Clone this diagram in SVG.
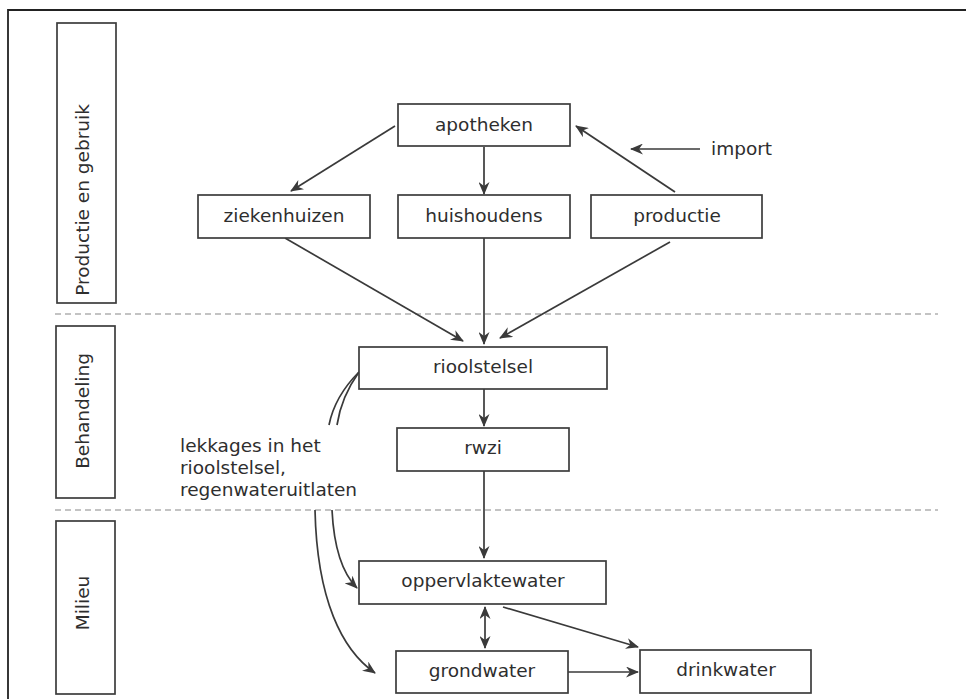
<svg xmlns="http://www.w3.org/2000/svg" width="966" height="699" viewBox="0 0 966 699">
<defs>
<marker id="ah" viewBox="0 0 13 11" refX="12" refY="5.5" markerWidth="13" markerHeight="11" markerUnits="userSpaceOnUse" orient="auto-start-reverse">
<path d="M0,0 L13,5.5 L0,11 L4,5.5 Z" fill="#3a3a3a"/>
</marker>
</defs>
<style>
.box{fill:#fff;stroke:#3c3c3c;stroke-width:1.7}
.t{font-family:"DejaVu Sans",Verdana,sans-serif;font-size:18.5px;fill:#2e2e2e}
.c{text-anchor:middle}
.ln{fill:none;stroke:#3a3a3a;stroke-width:1.7}
.ar{marker-end:url(#ah)}
.dash{stroke:#b0b0b0;stroke-width:1.3;stroke-dasharray:6 4}
</style>
<rect width="966" height="699" fill="#fff"/>
<path d="M8,699 L8,10 L966,10" fill="none" stroke="#222" stroke-width="1.8"/>

<g id="lanes">
<line class="dash" x1="55" y1="314" x2="938" y2="314"/>
<line class="dash" x1="55" y1="510" x2="938" y2="510"/>
<g id="lane-productie">
<rect class="box" x="57" y="23" width="59" height="280"/>
<text class="t c" transform="translate(89,200) rotate(-90)">Productie en gebruik</text>
</g>
<g id="lane-behandeling">
<rect class="box" x="56" y="326" width="59" height="172"/>
<text class="t c" transform="translate(89,411) rotate(-90)">Behandeling</text>
</g>
<g id="lane-milieu">
<rect class="box" x="56" y="521" width="59" height="173"/>
<text class="t c" transform="translate(89,603) rotate(-90)">Milieu</text>
</g>
</g>

<g id="connectors">
<line class="ln ar" x1="395" y1="126" x2="291" y2="191"/>
<line class="ln ar" x1="484" y1="147" x2="484" y2="194"/>
<line class="ln ar" x1="675" y1="192" x2="576" y2="126"/>
<line class="ln ar" x1="700" y1="149" x2="631" y2="149"/>
<line class="ln ar" x1="285" y1="238" x2="463" y2="341"/>
<line class="ln ar" x1="484" y1="238" x2="484" y2="344"/>
<line class="ln ar" x1="670" y1="242" x2="500" y2="338"/>
<line class="ln ar" x1="484" y1="389" x2="484" y2="426"/>
<line class="ln ar" x1="484" y1="471" x2="484" y2="558"/>
<line class="ln ar" x1="485" y1="607" x2="485" y2="648" style="marker-start:url(#ah)"/>
<line class="ln ar" x1="503" y1="607" x2="638" y2="647"/>
<line class="ln ar" x1="568" y1="672" x2="638" y2="672"/>
<path class="ln" d="M359,372 C345,386 333,405 329,425"/>
<path class="ln" d="M359,372 C349,386 340,405 337,425"/>
<path class="ln ar" d="M332,510 C334,550 343,574 357,588"/>
<path class="ln ar" d="M315,510 C317,600 342,650 375,673"/>
</g>

<g id="import-label">
<text class="t" x="711" y="155">import</text>
</g>
<g id="leak-label">
<text class="t" x="180" y="452">lekkages in het</text>
<text class="t" x="180" y="474">rioolstelsel,</text>
<text class="t" x="180" y="496">regenwateruitlaten</text>
</g>

<g id="apotheken">
<rect class="box" x="398" y="104" width="172" height="42"/>
<text class="t c" x="484" y="131">apotheken</text>
</g>
<g id="ziekenhuizen">
<rect class="box" x="198" y="195" width="172" height="43"/>
<text class="t c" x="284" y="222">ziekenhuizen</text>
</g>
<g id="huishoudens">
<rect class="box" x="398" y="195" width="172" height="43"/>
<text class="t c" x="484" y="222">huishoudens</text>
</g>
<g id="productie">
<rect class="box" x="591" y="195" width="171" height="43"/>
<text class="t c" x="677" y="222">productie</text>
</g>
<g id="rioolstelsel">
<rect class="box" x="359" y="347" width="248" height="42"/>
<text class="t c" x="483" y="373">rioolstelsel</text>
</g>
<g id="rwzi">
<rect class="box" x="397" y="428" width="172" height="43"/>
<text class="t c" x="483" y="454">rwzi</text>
</g>
<g id="oppervlaktewater">
<rect class="box" x="359" y="561" width="247" height="43"/>
<text class="t c" x="483" y="587">oppervlaktewater</text>
</g>
<g id="grondwater">
<rect class="box" x="396" y="651" width="172" height="42"/>
<text class="t c" x="482" y="677">grondwater</text>
</g>
<g id="drinkwater">
<rect class="box" x="640" y="650" width="171" height="43"/>
<text class="t c" x="726" y="676">drinkwater</text>
</g>
</svg>
